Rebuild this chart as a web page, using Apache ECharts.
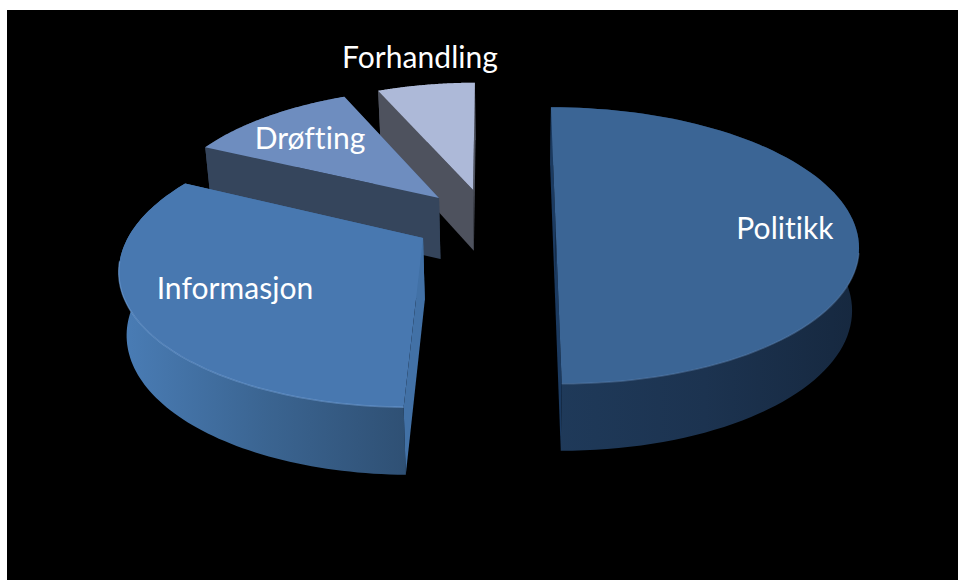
<!DOCTYPE html>
<html><head><meta charset="utf-8">
<style>html,body{margin:0;padding:0;background:#fff}#c{width:958px;height:580px}svg text{font-variant-ligatures:none;letter-spacing:0.05px}</style>
<script src="https://cdn.jsdelivr.net/npm/echarts@6/dist/echarts.min.js"></script>
</head><body><div id="c"></div>
<script>
const categories = ['Politikk', 'Informasjon', 'Drøfting', 'Forhandling'];
const shares = [50, 32, 11.2, 6.4];

// projection of the tilted disc onto the page
const VIEW = {ox: 511, oy: 229, A: 302, B: 137, k: 0.12, depth: 62, shrinkX: 0.02, growY: 0.032};
// per-slice look: explode offset on the disc, small turn in degrees, radius (r) plus forward bulge (e), layer order, label anchor, paints
const LOOK = [
  {c: [0.148, 0], turn: 0, r: 0.995, e: 0, z: 30, label: [785, 227],
   top: '#3b6595', end: '#1b3a60', rim: ['#1f3a5a', '#1c3350', '#16283f'], edge: '#5f86b3', edgeOp: 0.45},
  {c: [-0.289, 0.065], turn: 1, r: 0.97, e: 0.09, z: 40, label: [235, 287],
   top: '#4878b0', end: '#4271a6', rim: ['#4a7db6', '#3b6592', '#2f5074'], edge: '#6f9fd6', edgeOp: 0.6},
  {c: [-0.245, -0.232], turn: 0.7, r: 0.94, e: 0, z: 20, label: [310, 137],
   top: '#6e8dbf', end: '#35455c', rim: ['#35455c', '#35455c', '#35455c'], edge: null},
  {c: [-0.13, -0.295], turn: 1, r: 0.93, e: 0, z: 10, label: [420, 56],
   top: '#adb9d8', end: '#4e525e', rim: ['#4e525e', '#4e525e', '#4e525e'], edge: null}
];

const project = (u, v, h) => {
  const w = 1 - VIEW.k * v;
  return [
    VIEW.ox + VIEW.A * (1 - VIEW.shrinkX * h) * u / w,
    VIEW.oy + VIEW.B * (1 + VIEW.growY * h) * v / w + VIEW.depth * h
  ];
};

function renderItem(params, api) {
  const i = params.dataIndex;
  const look = LOOK[i];
  let before = 0;
  for (let j = 0; j < i; j++) before += shares[j];
  const turn = look.turn * Math.PI / 180;
  const a0 = turn + before / 100 * Math.PI * 2;
  const a1 = turn + (before + api.value(0)) / 100 * Math.PI * 2;
  const disc = t => {
    const s = Math.sin(t), c = Math.cos(t);
    const r = look.r - look.e * c;
    return [look.c[0] + r * s, look.c[1] - r * c];
  };
  const steps = 90;
  const arc = [];
  for (let n = 0; n <= steps; n++) arc.push(disc(a0 + (a1 - a0) * n / steps));
  const topArc = arc.map(p => project(p[0], p[1], 0));
  const botArc = arc.map(p => project(p[0], p[1], 1));
  const apexT = project(look.c[0], look.c[1], 0);
  const apexB = project(look.c[0], look.c[1], 1);
  const z = look.z;
  const kids = [];
  kids.push({
    type: 'polygon', z2: z, shape: {points: topArc.concat(botArc.slice().reverse())},
    style: {fill: new echarts.graphic.LinearGradient(0, 0, 1, 0, [
      {offset: 0, color: look.rim[0]}, {offset: 0.5, color: look.rim[1]}, {offset: 1, color: look.rim[2]}
    ])}
  });
  const faces = [
    {p: arc[0], t: topArc[0], b: botArc[0]},
    {p: arc[steps], t: topArc[steps], b: botArc[steps]}
  ].sort((x, y) => x.p[1] - y.p[1]);
  faces.forEach((f, n) => kids.push({
    type: 'polygon', z2: z + 1 + n, shape: {points: [f.t, apexT, apexB, f.b]},
    style: {fill: look.end}
  }));
  kids.push({
    type: 'polygon', z2: z + 4, shape: {points: [apexT].concat(topArc)},
    style: {fill: look.top}
  });
  if (look.edge) {
    const front = [];
    arc.forEach((p, n) => { if (p[1] > look.c[1] + 0.15) front.push(topArc[n]); });
    kids.push({
      type: 'polyline', z2: z + 5, shape: {points: front},
      style: {stroke: look.edge, lineWidth: 1.5, fill: 'none', opacity: look.edgeOp}
    });
  }
  kids.push({
    type: 'text', z2: 100,
    style: {
      text: categories[i], x: look.label[0], y: look.label[1], fill: '#fff',
      font: '30px Lato', align: 'center', verticalAlign: 'middle'
    }
  });
  return {type: 'group', children: kids};
}

const chart = echarts.init(document.getElementById('c'), null, {renderer: 'svg'});
chart.setOption({
  backgroundColor: '#fff',
  animation: false,
  graphic: [{type: 'rect', z: -1, shape: {x: 7, y: 10, width: 951, height: 570}, style: {fill: '#000'}}],
  series: [{
    type: 'custom',
    coordinateSystem: 'none',
    renderItem,
    data: shares.map((v, i) => ({name: categories[i], value: [v]}))
  }]
});
</script></body></html>
